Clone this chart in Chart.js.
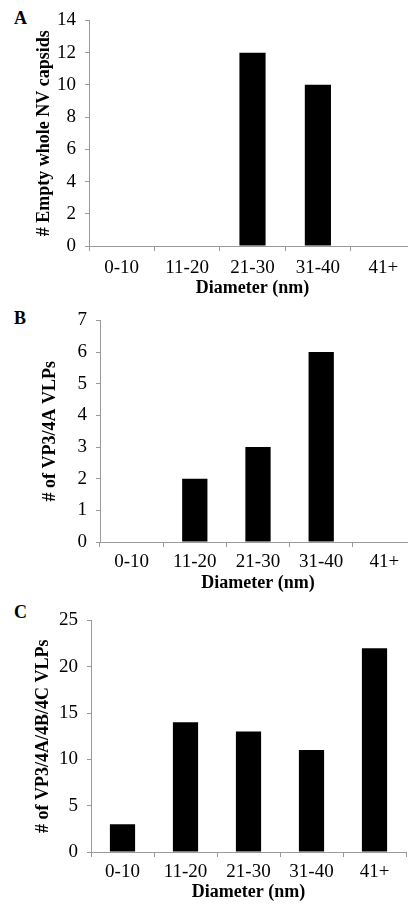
<!DOCTYPE html>
<html>
<head>
<meta charset="utf-8">
<script src="https://cdn.jsdelivr.net/npm/chart.js@4/dist/chart.umd.min.js"></script>
<style>
    html, body {
        margin: 0;
        padding: 0;
        background: #fff;
        overflow: hidden;
        width: 408px;
        height: 908px;
    }
    .panel {
        position: absolute;
        left: 0;
    }
    .letter {
        position: absolute;
        left: 14px;
        font-family: 'Liberation Serif', 'Times New Roman', serif;
        font-weight: bold;
        font-size: 18px;
        line-height: 18px;
        color: #000;
    }
</style>
</head>
<body>

<div class="letter" style="top:9px">A</div>
<div class="letter" style="top:309px">B</div>
<div class="letter" style="top:603px">C</div>

<div class="panel" style="top:0px;width:420px;height:300px"><canvas id="chartA"></canvas></div>
<div class="panel" style="top:300px;width:420px;height:300px"><canvas id="chartB"></canvas></div>
<div class="panel" style="top:600px;width:408px;height:308px"><canvas id="chartC"></canvas></div>

<script>
// Size classes shared by the three histograms
const categories = ['0-10', '11-20', '21-30', '31-40', '41+'];

// Counts per diameter class
const emptyCapsidCounts = [0, 0, 12, 10, 0];
const vp34aCounts = [0, 2, 3, 6, 0];
const vp34a4b4cCounts = [3, 14, 13, 11, 22];

// Y axis ranges
const yMaxA = 14, yStepA = 2;
const yMaxB = 7, yStepB = 1;
const yMaxC = 25, yStepC = 5;

const FONT = "'Liberation Serif', 'Times New Roman', serif";
const AXIS_GREY = '#9a9a9a';

/**
 * Build one bar histogram panel
 */
function makePanel(canvasId, opts) {
    const ctx = document.getElementById(canvasId);

    return new Chart(ctx, {
        type: 'bar',
        data: {
            labels: categories,
            datasets: [{
                data: opts.values,
                backgroundColor: '#000',
                borderWidth: 0,
                barPercentage: 0.4,
                categoryPercentage: 1.0
            }]
        },
        options: {
            responsive: true,
            maintainAspectRatio: false,
            animation: false,
            layout: {
                padding: { top: opts.padTop, left: 0, right: opts.padRight, bottom: 0 }
            },
            plugins: {
                legend: { display: false },
                tooltip: { enabled: false }
            },
            scales: {
                x: {
                    grid: {
                        display: true,
                        drawOnChartArea: false,
                        drawTicks: true,
                        tickLength: 5,
                        color: AXIS_GREY,
                        offset: true
                    },
                    border: { color: AXIS_GREY, width: 1 },
                    ticks: {
                        color: '#000',
                        padding: opts.tickPad,
                        maxRotation: 0,
                        font: { family: FONT, size: 19 }
                    },
                    title: {
                        display: true,
                        text: 'Diameter (nm)',
                        color: '#000',
                        padding: { top: 0, bottom: opts.titlePadBottom },
                        font: { family: FONT, size: 18, weight: 'bold' }
                    },
                    afterFit: function(scale) {
                        scale.height = opts.xHeight;
                    }
                },
                y: {
                    min: 0,
                    max: opts.yMax,
                    ticks: {
                        stepSize: opts.yStep,
                        color: '#000',
                        padding: 9,
                        font: { family: FONT, size: 19 }
                    },
                    grid: {
                        display: true,
                        drawOnChartArea: false,
                        drawTicks: true,
                        tickLength: 4,
                        color: AXIS_GREY
                    },
                    border: { color: AXIS_GREY, width: 1 },
                    title: {
                        display: true,
                        text: opts.yTitle,
                        color: '#000',
                        padding: { top: opts.yTitlePad, bottom: 0 },
                        font: { family: FONT, size: 18, weight: 'bold' }
                    },
                    afterFit: function(scale) {
                        scale.width = opts.yWidth;
                    }
                }
            }
        }
    });
}

makePanel('chartA', {
    values: emptyCapsidCounts,
    yMax: yMaxA, yStep: yStepA,
    yTitle: '# Empty whole NV capsids',
    padTop: 19, padRight: 4,
    yWidth: 89, yTitlePad: 34,
    xHeight: 54, tickPad: 6, titlePadBottom: 1
});

makePanel('chartB', {
    values: vp34aCounts,
    yMax: yMaxB, yStep: yStepB,
    yTitle: '# of VP3/4A VLPs',
    padTop: 12, padRight: 4,
    yWidth: 100, yTitlePad: 40,
    xHeight: 58, tickPad: 4, titlePadBottom: 6
});

makePanel('chartC', {
    values: vp34a4b4cCounts,
    yMax: yMaxC, yStep: yStepC,
    yTitle: '# of VP3/4A/4B/4C VLPs',
    padTop: 20, padRight: 2,
    yWidth: 91, yTitlePad: 33,
    xHeight: 56, tickPad: 4, titlePadBottom: 5
});
</script>
</body>
</html>
